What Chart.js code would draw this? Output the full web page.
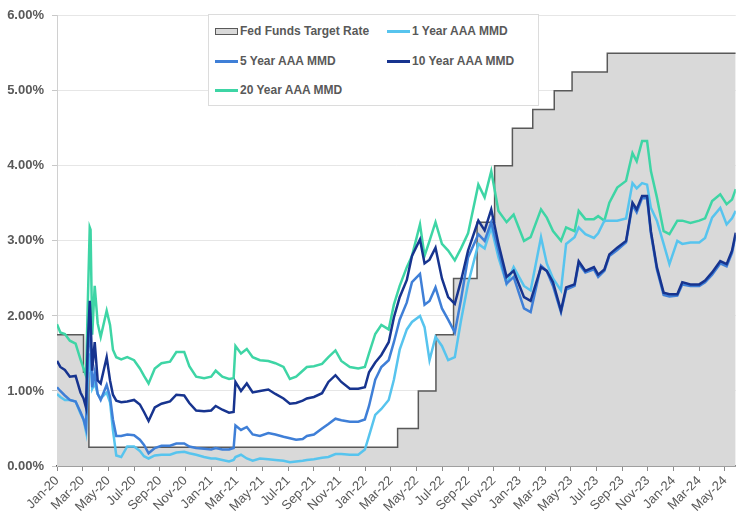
<!DOCTYPE html>
<html>
<head>
<meta charset="utf-8">
<script src="https://cdn.jsdelivr.net/npm/chart.js@4.4.1/dist/chart.umd.min.js"></script>
<style>
  html, body { margin: 0; padding: 0; background: #fff; }
  #wrap { position: relative; width: 738px; height: 515px; }
  #legend {
    position: absolute; left: 208px; top: 14px; width: 331px; height: 92px;
    box-sizing: border-box; background: #fff; border: 1px solid #dcdcdc;
    font: bold 12px "Liberation Sans", Arial, sans-serif; color: #595959;
  }
  .item { position: absolute; display: flex; align-items: center; white-space: nowrap; height: 14px; }
  .swatch { width: 23px; height: 3px; margin-right: 2px; }
  .box { width: 21px; height: 5px; background: #d9d9d9; border: 1px solid #595959; margin-right: 2px; }
</style>
</head>
<body>
<div id="wrap">
  <canvas id="chart" width="738" height="515"></canvas>
  <div id="legend"></div>
</div>
<script>
const fontFamily = '"Liberation Sans", Arial, sans-serif';
const monthNames = ['Jan', 'Feb', 'Mar', 'Apr', 'May', 'Jun', 'Jul', 'Aug', 'Sep', 'Oct', 'Nov', 'Dec'];

// Fed funds target rate (upper bound), value applies from each date
const fedDates = ['2020-01-01', '2020-03-03', '2020-03-16', '2022-03-17', '2022-05-05', '2022-06-16',
  '2022-07-28', '2022-09-22', '2022-11-03', '2022-12-15', '2023-02-02', '2023-03-23', '2023-05-04',
  '2023-07-27', '2024-05-27'];
const fedRate = [1.75, 1.25, 0.25, 0.50, 1.00, 1.75, 2.50, 3.25, 4.00, 4.50, 4.75, 5.00, 5.25, 5.50, 5.50];

// AAA MMD yields
const mmdDates = [
  '2020-01-01', '2020-01-09', '2020-01-20', '2020-02-01', '2020-02-14', '2020-02-25', '2020-03-03', '2020-03-09',
  '2020-03-13', '2020-03-18', '2020-03-20', '2020-03-24', '2020-03-30', '2020-04-06', '2020-04-13', '2020-04-27',
  '2020-05-05', '2020-05-12', '2020-05-20', '2020-06-01', '2020-06-15', '2020-07-01', '2020-07-15', '2020-07-25',
  '2020-08-05', '2020-08-20', '2020-09-05', '2020-09-25', '2020-10-10', '2020-10-29', '2020-11-10', '2020-11-26',
  '2020-12-15', '2021-01-01', '2021-01-12', '2021-01-28', '2021-02-12', '2021-02-22', '2021-02-26', '2021-03-11',
  '2021-03-25', '2021-04-08', '2021-04-25', '2021-05-15', '2021-06-01', '2021-06-20', '2021-07-05', '2021-07-20',
  '2021-08-05', '2021-08-15', '2021-09-01', '2021-09-20', '2021-10-05', '2021-10-22', '2021-11-05', '2021-11-25',
  '2021-12-15', '2021-12-31', '2022-01-10', '2022-01-25', '2022-02-08', '2022-02-24', '2022-03-08', '2022-03-22',
  '2022-04-08', '2022-04-20', '2022-05-09', '2022-05-20', '2022-06-01', '2022-06-15', '2022-06-30', '2022-07-15',
  '2022-07-31', '2022-08-15', '2022-09-01', '2022-09-25', '2022-10-10', '2022-10-26', '2022-11-12', '2022-12-01',
  '2022-12-18', '2023-01-12', '2023-01-28', '2023-02-20', '2023-03-05', '2023-03-20', '2023-04-08', '2023-04-20',
  '2023-05-10', '2023-05-20', '2023-06-05', '2023-06-25', '2023-07-05', '2023-07-20', '2023-08-01', '2023-08-20',
  '2023-09-10', '2023-09-25', '2023-10-05', '2023-10-18', '2023-10-30', '2023-11-08', '2023-11-22', '2023-12-08',
  '2023-12-22', '2024-01-10', '2024-01-22', '2024-02-10', '2024-03-01', '2024-03-15', '2024-04-01', '2024-04-20',
  '2024-05-05', '2024-05-18', '2024-05-27'
];
const mmd1y = [
  0.96, 0.92, 0.88, 0.88, 0.86, 0.70, 0.62, 0.46,
  1.10, 1.50, 1.40, 1.03, 1.10, 0.96, 0.90, 0.98,
  0.85, 0.48, 0.14, 0.12, 0.26, 0.26, 0.20, 0.13,
  0.10, 0.14, 0.15, 0.15, 0.18, 0.19, 0.17, 0.15,
  0.12, 0.10, 0.10, 0.08, 0.06, 0.08, 0.12, 0.15,
  0.10, 0.07, 0.10, 0.09, 0.08, 0.07, 0.05, 0.06,
  0.07, 0.08, 0.09, 0.11, 0.12, 0.16, 0.16, 0.15,
  0.15, 0.22, 0.40, 0.68, 0.76, 0.88, 1.15, 1.55,
  1.82, 1.92, 2.00, 1.85, 1.41, 1.72, 1.60, 1.41,
  1.45, 1.94, 2.43, 2.96, 2.90, 3.18, 2.78, 2.43,
  2.65, 2.40, 2.34, 3.05, 2.70, 2.50, 2.34, 2.96,
  3.05, 3.18, 3.09, 3.04, 3.10, 3.27, 3.27, 3.27,
  3.30, 3.77, 3.70, 3.77, 3.75, 3.44, 3.27, 2.96,
  2.69, 3.00, 2.96, 2.98, 2.98, 3.04, 3.31, 3.44,
  3.22, 3.30, 3.40
];
const mmd5y = [
  1.05, 1.00, 0.94, 0.88, 0.86, 0.72, 0.62, 0.50,
  1.40, 2.00, 1.70, 1.05, 1.25, 0.96, 0.88, 1.08,
  0.92, 0.62, 0.40, 0.40, 0.42, 0.41, 0.35, 0.28,
  0.17, 0.24, 0.27, 0.27, 0.30, 0.30, 0.26, 0.24,
  0.23, 0.22, 0.24, 0.22, 0.22, 0.24, 0.54, 0.48,
  0.52, 0.42, 0.40, 0.44, 0.42, 0.39, 0.37, 0.35,
  0.36, 0.40, 0.42, 0.50, 0.56, 0.63, 0.61, 0.59,
  0.59, 0.62, 0.80, 1.15, 1.32, 1.41, 1.65, 1.95,
  2.18, 2.45, 2.56, 2.15, 2.20, 2.38, 2.10, 1.95,
  1.78, 2.22, 2.78, 3.09, 3.00, 3.25, 2.87, 2.43,
  2.52, 2.10, 2.05, 2.67, 2.60, 2.40, 2.05, 2.35,
  2.40, 2.70, 2.58, 2.62, 2.52, 2.60, 2.80, 2.88,
  2.98, 3.48, 3.38, 3.57, 3.57, 3.10, 2.62, 2.28,
  2.26, 2.27, 2.42, 2.40, 2.40, 2.45, 2.55, 2.70,
  2.66, 2.84, 3.08
];
const mmd10y = [
  1.40, 1.32, 1.28, 1.19, 1.20, 0.98, 0.90, 0.78,
  1.60, 2.20, 2.00, 1.27, 1.65, 1.14, 1.10, 1.45,
  1.14, 0.95, 0.87, 0.85, 0.86, 0.88, 0.82, 0.72,
  0.60, 0.78, 0.83, 0.86, 0.95, 0.94, 0.84, 0.74,
  0.73, 0.74, 0.80, 0.75, 0.71, 0.72, 1.12, 1.00,
  1.10, 0.98, 1.00, 1.02, 0.96, 0.90, 0.83, 0.84,
  0.87, 0.90, 0.92, 0.97, 1.12, 1.21, 1.12, 1.03,
  1.03, 1.05, 1.25, 1.38, 1.48, 1.65, 1.98, 2.25,
  2.48, 2.80, 3.02, 2.70, 2.75, 2.91, 2.50, 2.25,
  2.16, 2.47, 2.87, 3.27, 3.14, 3.42, 2.96, 2.52,
  2.60, 2.25, 2.20, 2.65, 2.60, 2.45, 2.07, 2.38,
  2.42, 2.73, 2.60, 2.65, 2.55, 2.62, 2.82, 2.91,
  3.00, 3.51, 3.42, 3.60, 3.60, 3.13, 2.65, 2.31,
  2.29, 2.29, 2.45, 2.42, 2.42, 2.47, 2.58, 2.73,
  2.69, 2.87, 3.11
];
const mmd20y = [
  1.89, 1.78, 1.76, 1.67, 1.63, 1.42, 1.30, 1.20,
  2.10, 3.18, 3.15, 1.75, 2.40, 1.90, 1.72, 2.07,
  1.88, 1.55, 1.45, 1.42, 1.45, 1.41, 1.30, 1.20,
  1.10, 1.30, 1.37, 1.39, 1.52, 1.52, 1.33, 1.19,
  1.17, 1.19, 1.27, 1.19, 1.16, 1.17, 1.60, 1.50,
  1.56, 1.45, 1.41, 1.40, 1.37, 1.32, 1.16, 1.19,
  1.27, 1.32, 1.33, 1.36, 1.45, 1.54, 1.40, 1.32,
  1.30, 1.32, 1.50, 1.76, 1.88, 1.82, 2.15, 2.40,
  2.65, 2.80, 3.22, 2.80, 3.00, 3.25, 2.96, 2.87,
  2.74, 2.90, 3.10, 3.75, 3.58, 3.93, 3.40, 3.25,
  3.35, 3.00, 3.05, 3.42, 3.31, 3.13, 3.00, 3.18,
  3.13, 3.40, 3.29, 3.29, 3.33, 3.27, 3.51, 3.71,
  3.80, 4.17, 4.06, 4.33, 4.33, 3.93, 3.58, 3.13,
  3.09, 3.27, 3.27, 3.24, 3.27, 3.30, 3.53, 3.62,
  3.49, 3.55, 3.69
];

function monthIndex(s) {
  const [y, m, d] = s.split('-').map(Number);
  const days = new Date(y, m, 0).getDate();
  return (y - 2020) * 12 + (m - 1) + (d - 1) / days;
}

function points(dates, values) {
  return dates.map((d, i) => ({ x: monthIndex(d), y: values[i] }));
}

const xMax = monthIndex(mmdDates[mmdDates.length - 1]);

const series = [
  { label: 'Fed Funds Target Rate', dates: fedDates, values: fedRate, color: '#595959', fed: true, order: 10 },
  { label: '1 Year AAA MMD', dates: mmdDates, values: mmd1y, color: '#57c4ee', order: 3 },
  { label: '5 Year AAA MMD', dates: mmdDates, values: mmd5y, color: '#3f7fd7', order: 2 },
  { label: '10 Year AAA MMD', dates: mmdDates, values: mmd10y, color: '#17348f', order: 1 },
  { label: '20 Year AAA MMD', dates: mmdDates, values: mmd20y, color: '#3ed5a5', order: 4 }
];

const datasets = series.map(s => ({
  label: s.label,
  data: points(s.dates, s.values),
  borderColor: s.color,
  backgroundColor: s.fed ? '#d9d9d9' : s.color,
  borderWidth: s.fed ? 1.5 : 2.5,
  fill: s.fed ? 'origin' : false,
  stepped: s.fed ? true : false,
  pointRadius: 0,
  tension: 0,
  order: s.order
}));

new Chart(document.getElementById('chart'), {
  type: 'line',
  data: { datasets },
  options: {
    responsive: false,
    animation: false,
    layout: { padding: { top: 13.5, right: 0, bottom: 0, left: 0 } },
    plugins: {
      legend: { display: false },
      tooltip: { enabled: false }
    },
    scales: {
      x: {
        type: 'linear',
        min: 0,
        max: xMax,
        z: 1,
        afterFit: scale => { scale.height = 49; },
        grid: { drawOnChartArea: false, tickLength: 5, tickColor: '#8c8c8c' },
        border: { color: '#595959', width: 1.5 },
        ticks: {
          stepSize: 2,
          includeBounds: false,
          autoSkip: false,
          minRotation: 45,
          maxRotation: 45,
          padding: 2,
          color: '#595959',
          font: { family: fontFamily, size: 13 },
          callback: v => monthNames[v % 12] + '-' + (20 + Math.floor(v / 12))
        }
      },
      y: {
        min: 0,
        max: 6,
        afterFit: scale => { scale.width = 57; },
        grid: { color: '#e6e6e6', tickLength: 5, tickColor: '#c8c8c8' },
        border: { color: '#d0d0d0' },
        ticks: {
          stepSize: 1,
          padding: 8,
          color: '#595959',
          font: { family: fontFamily, size: 13, weight: 'bold' },
          callback: v => v.toFixed(2) + '%'
        }
      }
    }
  }
});

// two-column legend box like the original
const legend = document.getElementById('legend');
const slots = [[6, 9], [178, 9], [6, 39], [178, 39], [6, 68]];
series.forEach((s, i) => {
  const item = document.createElement('div');
  item.className = 'item';
  item.style.left = slots[i][0] + 'px';
  item.style.top = slots[i][1] + 'px';
  const mark = document.createElement('span');
  if (s.fed) {
    mark.className = 'box';
  } else {
    mark.className = 'swatch';
    mark.style.background = s.color;
  }
  item.appendChild(mark);
  item.appendChild(document.createTextNode(s.label));
  legend.appendChild(item);
});
</script>
</body>
</html>
